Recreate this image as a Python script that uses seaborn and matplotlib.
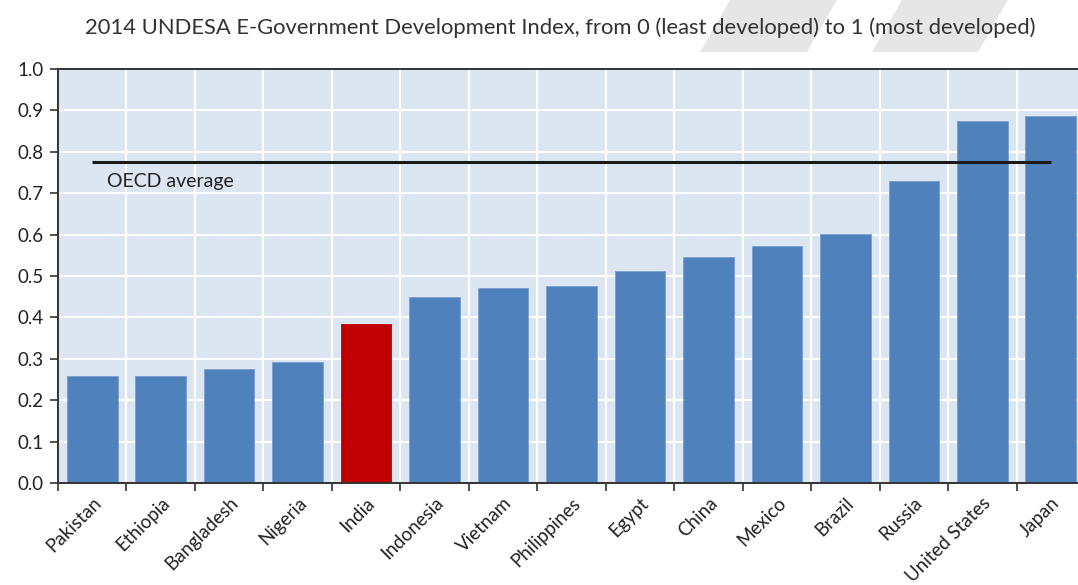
import numpy as np
import pandas as pd
import matplotlib
matplotlib.use("Agg")
import matplotlib.pyplot as plt
import seaborn as sns
from matplotlib.patches import Polygon

categories = ["Pakistan", "Ethiopia", "Bangladesh", "Nigeria", "India", "Indonesia",
              "Vietnam", "Philippines", "Egypt", "China", "Mexico", "Brazil",
              "Russia", "United States", "Japan"]
values = [0.258, 0.259, 0.276, 0.293, 0.383, 0.449, 0.470, 0.477, 0.513, 0.545,
          0.573, 0.601, 0.730, 0.875, 0.887]
oecd_average = 0.775
highlight = "India"
title = "2014 UNDESA E-Government Development Index, from 0 (least developed) to 1 (most developed)"
yticks = [0.0, 0.1, 0.2, 0.3, 0.4, 0.5, 0.6, 0.7, 0.8, 0.9, 1.0]

sns.set_theme(style="white")
plt.rcParams['font.family'] = ['Lato', 'DejaVu Sans']

W, H = 1078, 585
fig = plt.figure(figsize=(W / 100, H / 100), dpi=100)

# watermark shapes
for pts in ([(730, 0), (837, 0), (807, 52), (700, 52)],
            [(902, 0), (1008, 0), (978, 52), (872, 52)]):
    poly = Polygon([(x / W, 1 - y / H) for x, y in pts], closed=True,
                   transform=fig.transFigure, facecolor="#e6e6e6",
                   edgecolor="none", zorder=0)
    fig.patches.append(poly)

ax = fig.add_axes([58 / W, (H - 483) / H, 1027 / W, 414 / H])
ax.set_facecolor("#dce6f2")

df = pd.DataFrame({"country": categories, "value": values})
colors = {c: ("#c00000" if c == highlight else "#4f81bd") for c in categories}
sns.barplot(data=df, x="country", y="value", hue="country", palette=colors,
            legend=False, width=0.74, saturation=1, ax=ax, zorder=2,
            edgecolor="#7a9fcf", linewidth=0.6)
for p, c in zip(ax.patches, categories):
    if c == highlight:
        p.set_edgecolor("#c00000")

ax.hlines(oecd_average, 0, len(categories) - 1, color="#1a1a1a", lw=2.2, zorder=3)
ax.text(0.22, oecd_average - 0.047, "OECD average", fontsize=14, color="#222222",
        va="center", ha="left", zorder=4)

ax.set_xlim(-0.5, len(categories) - 0.5)
ax.set_ylim(0, 1.0)
ax.set_yticks(yticks)
ax.set_yticklabels([f"{t:.1f}" for t in yticks], fontsize=13.5, color="#222222")
ax.set_xticks(np.arange(len(categories)))
ax.set_xticklabels(categories, rotation=45, ha="right", rotation_mode="anchor",
                   fontsize=13.5, color="#222222")
ax.set_xticks(np.arange(-0.5, len(categories)), minor=True)
ax.tick_params(axis="x", which="major", length=0, pad=8)
ax.tick_params(axis="x", which="minor", length=6, width=1.2, color="#333333",
               direction="out", bottom=True)
ax.tick_params(axis="y", length=6, width=1.2, color="#333333", direction="out",
               left=True, pad=4)
ax.grid(False)
ax.grid(which="minor", axis="x", color="white", lw=1.5, zorder=1)
ax.grid(which="major", axis="y", color="white", lw=1.5, zorder=1)
ax.set_axisbelow(True)
ax.set_xlabel("")
ax.set_ylabel("")
for s in ax.spines.values():
    s.set_color("#333333")
    s.set_linewidth(1.4)

fig.text(560 / W, 1 - 28 / H, title, ha="center", va="center", fontsize=15.8,
         color="#333333", fontweight="normal")

fig.savefig("out.png", dpi=100)
